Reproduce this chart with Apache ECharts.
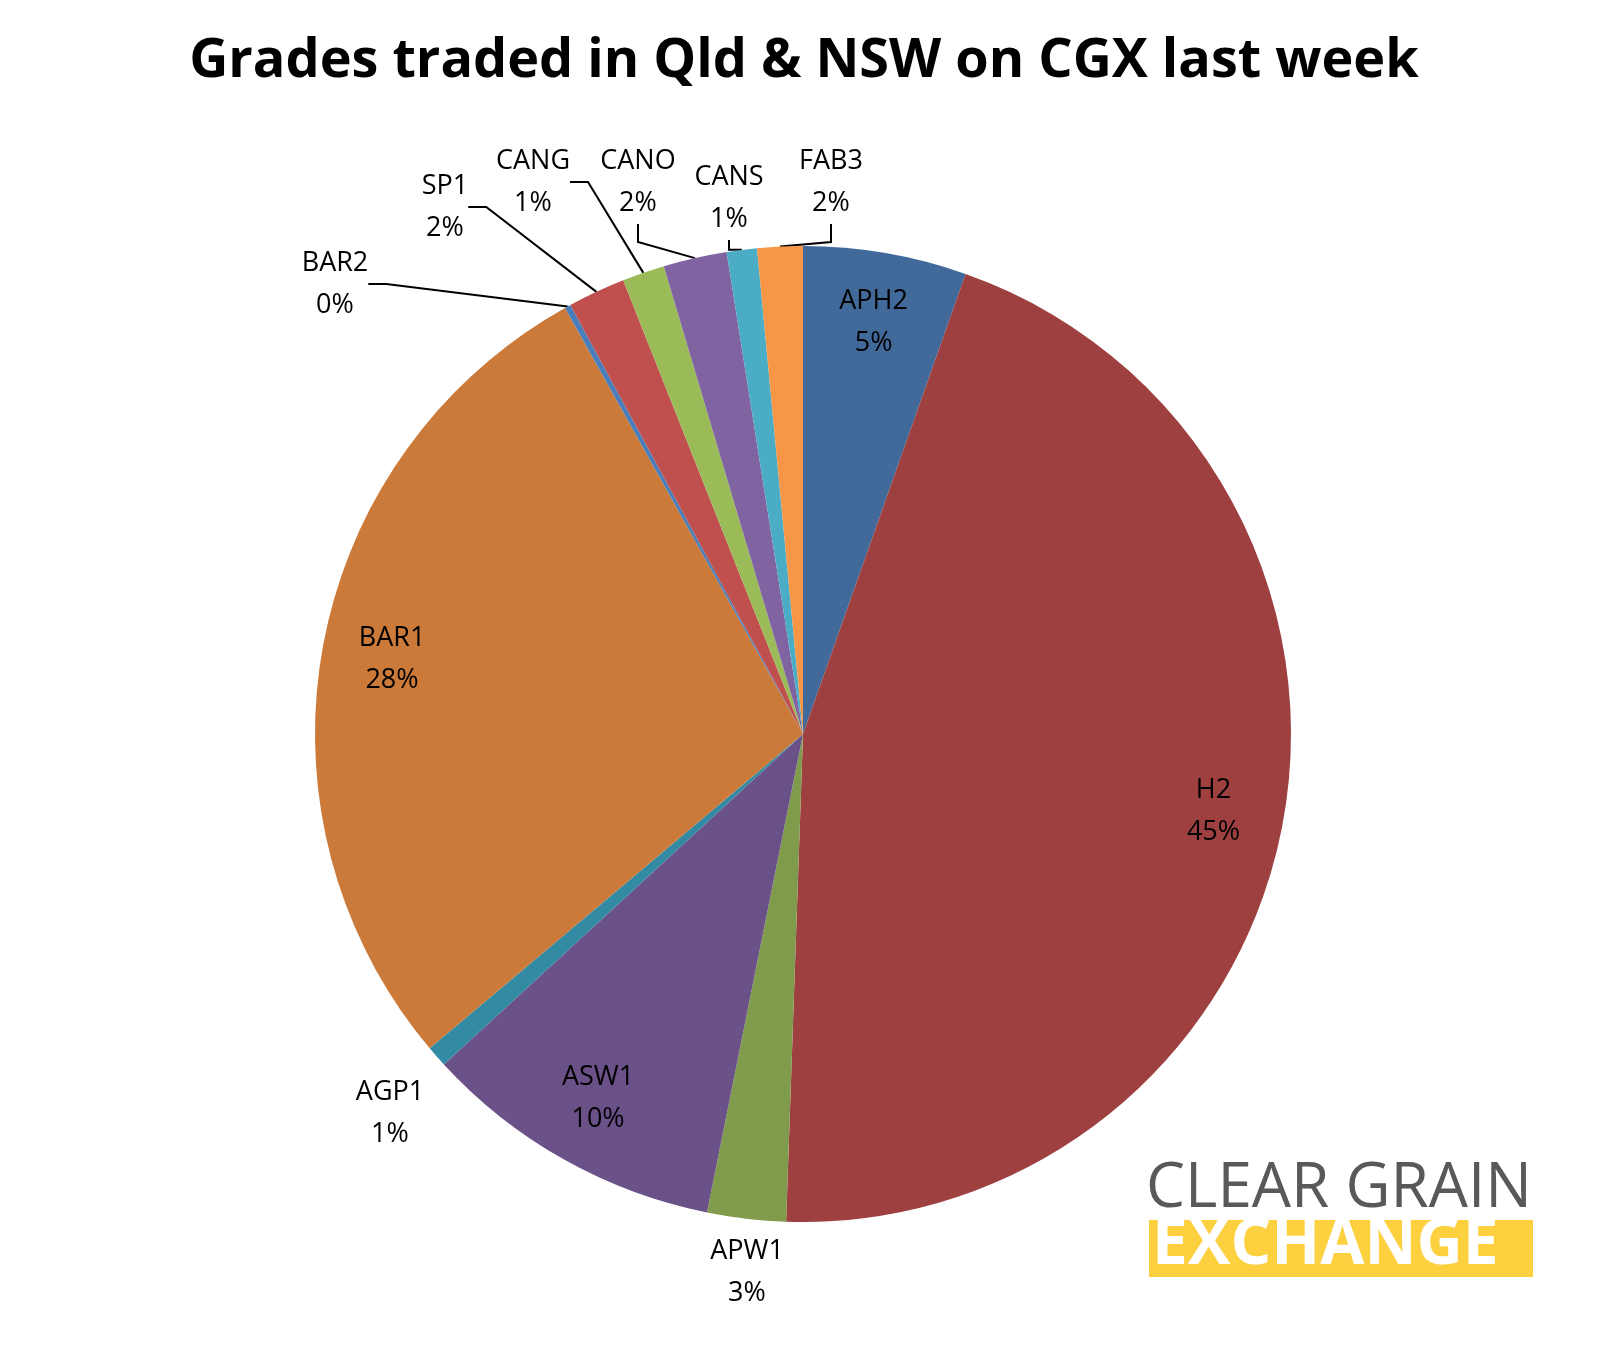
<!DOCTYPE html>
<html><head><meta charset="utf-8">
<script src="https://cdn.jsdelivr.net/npm/echarts@6/dist/echarts.min.js"></script>
<style>html,body{margin:0;background:#fff}#c{width:1608px;height:1350px}</style>
</head><body><div id="c"></div>
<script>
const categories = ['APH2','H2','APW1','ASW1','AGP1','BAR1','BAR2','SP1','CANG','CANO','CANS','FAB3'];
const values = [5.4,45.1,2.6,10.0,0.7,28.0,0.2,1.9,1.4,2.1,1.0,1.5];
const colors = ['#416a9a','#9e4040','#809b4b','#6a5188','#338aa3','#cb7a3a','#4a7ebb','#c0504d','#9bbb59','#8064a2','#4bacc6','#f79646'];
const insideLabels = ['APH2','H2','ASW1','BAR1'];
const noLine = ['APW1','AGP1'];
const labelPos = {BAR2:[335,284],SP1:[445,207],CANG:[533,182],CANO:[638,182],CANS:[729,198],FAB3:[831,182],APW1:[747,1272],AGP1:[390,1113]};
const total = values.reduce((a,b)=>a+b,0);
const fmt = p => p.name + '\n' + Math.round(p.value/total*100) + '%';
const font = {fontFamily:'"Open Sans","Liberation Sans",sans-serif', fontSize:27, color:'#000', lineHeight:42};
const cx = 803, cy = 734, R = 488;
const chart = echarts.init(document.getElementById('c'));
chart.setOption({
  animation:false,
  title:{text:'Grades traded in Qld & NSW on CGX last week',left:'center',top:30,
    textStyle:{fontFamily:'"Open Sans","Liberation Sans",sans-serif',fontWeight:'bold',fontSize:54,color:'#000'}},
  series:[{
    type:'pie', center:[cx,cy], radius:[0,R], startAngle:90, clockwise:true, avoidLabelOverlap:false,
    label:{show:true, ...font, formatter:fmt},
    labelLine:{show:true,length:18,length2:18,lineStyle:{color:'#000',width:2}},
    labelLayout:function(p){
      const pos = labelPos[categories[p.dataIndex]];
      if(!pos) return {};
      return {x:pos[0], y:pos[1], align:'center', verticalAlign:'middle', hideOverlap:false};
    },
    data:categories.map((c,i)=>({name:c,value:values[i],itemStyle:{color:colors[i]},
      label:{show:!insideLabels.includes(c)},
      labelLine:{show:!insideLabels.includes(c)&&!noLine.includes(c)}}))
  },{
    type:'pie', center:[cx,cy], radius:[R*0.7,R], startAngle:90, silent:true,
    itemStyle:{color:'transparent'},
    label:{position:'inside', ...font, formatter:fmt},
    labelLine:{show:false},
    data:categories.map((c,i)=>({name:c,value:values[i],label:{show:insideLabels.includes(c)}}))
  }],
  graphic:[
    {type:'text',left:1146,top:1158,style:{text:'CLEAR GRAIN',font:'62px "Open Sans","Liberation Sans",sans-serif',fill:'#58595b'}},
    {type:'rect',shape:{x:1149,y:1220,width:384,height:57},style:{fill:'#fcd03f'}},
    {type:'text',left:1152,top:1214,style:{text:'EXCHANGE',font:'bold 64px "Open Sans","Liberation Sans",sans-serif',fill:'#fff'}}
  ]
});
</script></body></html>
